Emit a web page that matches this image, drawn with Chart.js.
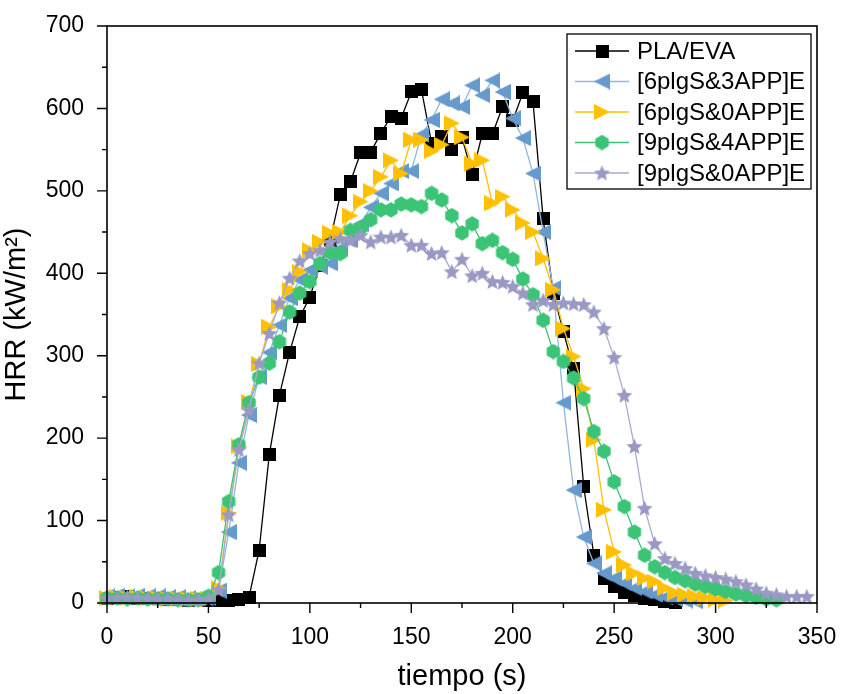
<!DOCTYPE html>
<html>
<head>
<meta charset="utf-8">
<script src="https://cdn.jsdelivr.net/npm/chart.js@4/dist/chart.umd.min.js"></script>
<style>
  html, body { margin: 0; padding: 0; background: #fff; }
  #wrap { width: 842px; height: 694px; position: relative; }
</style>
</head>
<body>
<div id="wrap"><canvas id="hrr"></canvas></div>
<script>
// tiempo (s)
const tiempo = [0,5,10,15,20,25,30,35,40,45,50,55,60,65,70,75,80,85,90,95,
  100,105,110,115,120,125,130,135,140,145,150,155,160,165,170,175,180,185,190,195,
  200,205,210,215,220,225,230,235,240,245,250,255,260,265,270,275,280,285,290,295,
  300,305,310,315,320,325,330,335,340,345];

// HRR (kW/m2) per sample
const plaEva = [5,7,8,6,5,5,4,4,3,4,3,3,3,4,7,64,180,252,304,347,
  371,410,440,495,511,546,547,570,590,588,620,623,558,566,550,565,520,569,569,602,
  585,619,608,466,376,329,284,141,58,30,20,13,9,6,4,2,1];
const s6_3 = [8,9,8,9,8,8,7,7,6,6,6,15,86,170,228,274,304,337,370,392,
  404,408,412,430,440,460,480,497,509,524,524,568,586,611,606,602,628,616,634,620,
  588,564,521,450,382,243,137,80,48,36,30,24,18,14,10,7,5,3,2];
const s6_0 = [6,7,6,7,6,6,5,5,5,5,5,18,109,190,244,290,335,360,380,402,
  428,438,449,450,470,487,500,517,537,521,562,562,548,556,582,565,533,537,485,493,
  477,461,450,418,380,333,299,260,198,113,62,46,36,30,26,18,12,10,8,6,4,3];
const s9_4 = [6,6,5,6,5,5,5,4,4,4,8,37,123,192,243,274,291,317,353,376,
  390,412,425,424,452,455,465,477,477,484,483,481,497,489,470,449,460,436,440,425,
  417,393,374,343,305,293,273,248,208,184,147,117,86,58,44,37,31,27,23,20,
  17,14,11,9,7,5,4];
const s9_0 = [6,6,7,6,6,5,5,5,4,4,5,16,107,186,234,291,327,364,394,415,
  424,428,438,442,440,446,438,444,444,446,434,434,424,425,402,417,397,400,390,389,
  384,376,362,367,362,364,363,362,353,333,298,252,190,115,72,54,48,42,36,33,
  31,29,26,22,17,12,10,8,8,8];

const seriesNames = ['PLA/EVA', '[6plgS&3APP]E', '[6plgS&0APP]E', '[9plgS&4APP]E', '[9plgS&0APP]E'];
const seriesValues = [plaEva, s6_3, s6_0, s9_4, s9_0];
const markerColors = ['#000000', '#6699CC', '#FFC000', '#3CC476', '#9999C4'];
const lineColors = ['#000000', '#92B6DE', '#FFC000', '#3CC476', '#A9A9D2'];
const markerKinds = ['square', 'left', 'right', 'hex', 'star'];

const FONT = '"Liberation Sans", Arial, sans-serif';

function makeMarker(kind, color) {
  const s = kind === 'square' ? 13 : (kind === 'star' ? 17 : 16);
  const c = document.createElement('canvas');
  c.width = s; c.height = s;
  const g = c.getContext('2d');
  const m = s / 2;
  g.fillStyle = color;
  g.beginPath();
  if (kind === 'square') {
    g.rect(0, 0, s, s);
  } else if (kind === 'left') {
    g.moveTo(0, m); g.lineTo(s, 0); g.lineTo(s, s);
  } else if (kind === 'right') {
    g.moveTo(s, m); g.lineTo(0, 0); g.lineTo(0, s);
  } else if (kind === 'hex') {
    for (let k = 0; k < 6; k++) {
      const a = Math.PI / 2 + k * Math.PI / 3;
      const px = m + (m - 0.3) * Math.cos(a), py = m - (m - 0.3) * Math.sin(a);
      k ? g.lineTo(px, py) : g.moveTo(px, py);
    }
  } else {
    for (let k = 0; k < 10; k++) {
      const r = k % 2 ? m * 0.45 : m;
      const a = -Math.PI / 2 + k * Math.PI / 5;
      const px = m + r * Math.cos(a), py = m + 0.7 + r * Math.sin(a);
      k ? g.lineTo(px, py) : g.moveTo(px, py);
    }
  }
  g.closePath();
  g.fill();
  return c;
}

const markers = markerKinds.map((k, i) => makeMarker(k, markerColors[i]));

const datasets = seriesValues.map((vals, i) => ({
  label: seriesNames[i],
  data: vals.map((v, j) => ({ x: tiempo[j], y: v })),
  borderColor: lineColors[i],
  backgroundColor: markerColors[i],
  borderWidth: 1.3,
  pointStyle: markers[i],
  pointRadius: 6,
  tension: 0,
  clip: 10,
  order: 4 - i
}));

// frame, tick marks and legend box
const framePlugin = {
  id: 'frame',
  afterDraw(chart) {
    const { ctx, chartArea: a, scales } = chart;
    ctx.save();
    ctx.strokeStyle = '#000';
    ctx.lineWidth = 1.6;
    ctx.strokeRect(a.left, a.top, a.right - a.left, a.bottom - a.top);
    ctx.lineWidth = 1.4;
    ctx.beginPath();
    for (let v = 0; v <= 350; v += 25) {
      const x = scales.x.getPixelForValue(v);
      const len = v % 50 === 0 ? 10 : 5;
      ctx.moveTo(x, a.bottom); ctx.lineTo(x, a.bottom + len);
    }
    for (let v = 0; v <= 700; v += 50) {
      const y = scales.y.getPixelForValue(v);
      const len = v % 100 === 0 ? 10 : 5;
      ctx.moveTo(a.left, y); ctx.lineTo(a.left - len, y);
    }
    ctx.stroke();

    // legend
    const lx = 567, ly = 34, lw = 244, lh = 155;
    ctx.fillStyle = '#fff';
    ctx.fillRect(lx, ly, lw, lh);
    ctx.lineWidth = 1.3;
    ctx.strokeRect(lx, ly, lw, lh);
    ctx.font = '24px ' + FONT;
    ctx.textBaseline = 'middle';
    ctx.textAlign = 'left';
    seriesNames.forEach((name, i) => {
      const y = 51 + i * 30.5;
      ctx.strokeStyle = lineColors[i];
      ctx.lineWidth = 1.3;
      ctx.beginPath();
      ctx.moveTo(575, y); ctx.lineTo(629, y);
      ctx.stroke();
      const mk = markers[i];
      ctx.drawImage(mk, 602 - mk.width / 2, y - mk.height / 2);
      ctx.fillStyle = '#000';
      ctx.fillText(name, 637, y + 1);
    });
    ctx.restore();
  }
};

new Chart(document.getElementById('hrr'), {
  type: 'line',
  data: { datasets },
  plugins: [framePlugin],
  options: {
    responsive: true,
    maintainAspectRatio: false,
    animation: false,
    layout: { padding: { top: 26, right: 25, left: 0, bottom: 0 } },
    plugins: { legend: { display: false }, tooltip: { enabled: false } },
    scales: {
      x: {
        type: 'linear',
        min: 0, max: 350,
        afterFit(s) { s.height = 91; s.paddingLeft = 0; s.paddingRight = 0; },
        grid: { display: false },
        border: { display: false },
        ticks: { stepSize: 50, padding: 13, color: '#000', font: { family: FONT, size: 23 }, maxRotation: 0 },
        title: { display: true, text: 'tiempo (s)', color: '#000', font: { family: FONT, size: 29 }, padding: { top: 10, bottom: 0 } }
      },
      y: {
        min: 0, max: 700,
        afterFit(s) { s.width = 107; s.paddingTop = 0; s.paddingBottom = 0; },
        grid: { display: false },
        border: { display: false },
        ticks: { stepSize: 100, padding: 15, color: '#000', font: { family: FONT, size: 23 } },
        title: { display: true, text: 'HRR (kW/m²)', color: '#000', font: { family: FONT, size: 29 }, padding: { top: 0, bottom: 0 } }
      }
    }
  }
});
</script>
</body>
</html>
